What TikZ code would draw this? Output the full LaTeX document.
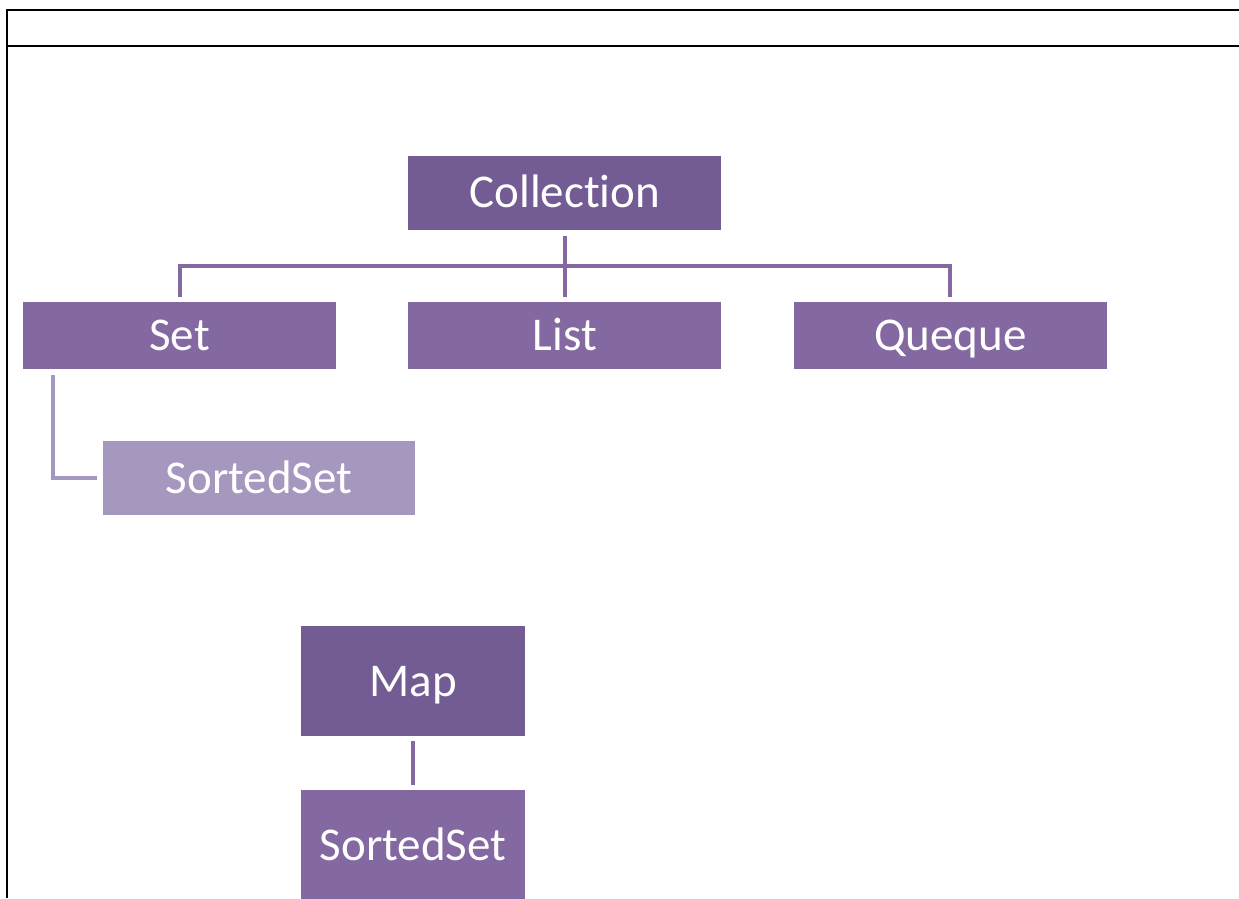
\documentclass[tikz,border=0pt]{standalone}
\usepackage{fontspec}
\setmainfont{Carlito}[Ligatures=NoCommon]
\usepackage{tikz}
\usetikzlibrary{calc}
\usetikzlibrary{positioning}

\definecolor{darkpurple}{HTML}{735B93}
\definecolor{midpurple}{HTML}{8468A2}
\definecolor{lightpurple}{HTML}{A697BE}

\tikzset{
  box/.style={rectangle, text=white, inner sep=0pt,
    text height=30pt, text depth=0pt,
    font=\fontsize{47}{56}\selectfont},
  head/.style={box, fill=darkpurple},
  kind/.style={box, fill=midpurple},
  sub/.style={box, fill=lightpurple},
  link/.style={draw=midpurple, line width=4pt},
  sublink/.style={draw=lightpurple, line width=4pt}
}

\begin{document}
\begin{tikzpicture}[x=1pt, y=-1pt, node distance=72pt]
        \useasboundingbox (0,0) rectangle (1239,898);
        % table frame
        \draw[line width=2.7pt] (1239,10) -- (7,10) -- (7,898);
        \draw[line width=2.7pt] (7,46) -- (1239,46);

        \node[kind, minimum width=313pt, minimum height=67pt] (set) at (179.5,335.5) {Set};
        \node[kind, minimum width=313pt, minimum height=67pt, right=of set] (list) {List};
        \node[kind, minimum width=313pt, minimum height=67pt, right=of list] (queue) {Queque};
        \node[head, minimum width=313pt, minimum height=74pt, above=of list] (coll) {Collection};
        \node[sub, minimum width=312pt, minimum height=74pt, below=of set.south west,
              anchor=north west, xshift=80pt] (sorted) {SortedSet};

        \node[head, minimum width=224pt, minimum height=110pt] (map) at (413,681) {Map};
        \node[kind, minimum width=224pt, minimum height=110pt, below=54pt of map] (sortedmap) {SortedSet};

        % Collection -> Set, List, Queque
        \coordinate (hub) at ($(coll.south)!0.5!(list.north)$);
        \draw[link] ([yshift=-6pt]coll.south) -- (hub) -- ([yshift=5pt]list.north);
        \draw[link] ([yshift=5pt]set.north) |- (hub) -| ([yshift=5pt]queue.north);
        % Set -> SortedSet
        \draw[sublink] ([xshift=30pt, yshift=-6pt]set.south west) |- ([xshift=-6pt]sorted.west);
        % Map -> SortedSet
        \draw[link] ([yshift=-5pt]map.south) -- ([yshift=5pt]sortedmap.north);
    \end{tikzpicture}
\end{document}
